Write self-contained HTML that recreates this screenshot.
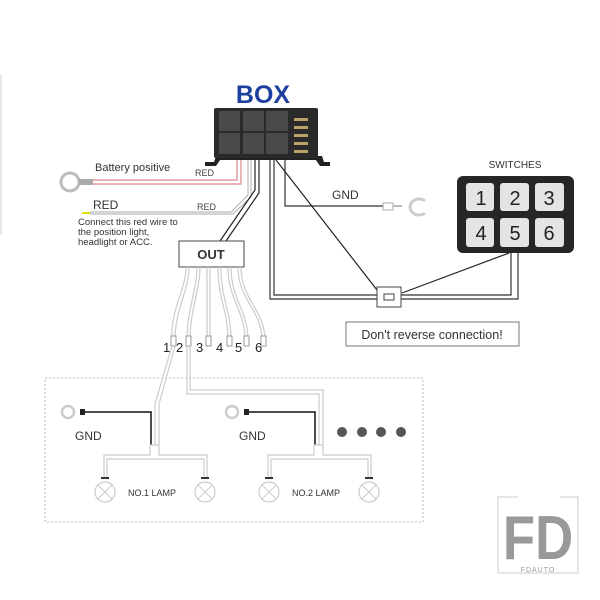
<!DOCTYPE html>
<html><head><style>body{margin:0;background:#fff}svg{display:block}</style></head><body>
<svg width="600" height="600" viewBox="0 0 600 600" font-family="Liberation Sans, sans-serif">
<rect width="600" height="600" fill="#fff"/>
<line x1="1" y1="75" x2="1" y2="235" stroke="#ddd" stroke-width="1.5"/>
<text x="263" y="103" font-size="25" font-weight="bold" fill="#1d3f9e" text-anchor="middle">BOX</text>
<path d="M205 162 L214 162 L216 156 L322 156 L324 162 L330 162 L330 166 L320 166 L316 160 L220 160 L216 166 L205 166Z" fill="#222"/>
<rect x="214" y="108" width="104" height="50" rx="2" fill="#2a2a2a"/>
<g fill="#4a4a4a">
<rect x="219" y="111" width="21" height="20"/><rect x="243" y="111" width="21" height="20"/><rect x="266" y="111" width="22" height="20"/>
<rect x="219" y="133" width="21" height="21"/><rect x="243" y="133" width="21" height="21"/><rect x="266" y="133" width="22" height="21"/>
</g>
<g fill="#b9a26a"><rect x="294" y="118" width="14" height="3"/><rect x="294" y="126" width="14" height="3"/><rect x="294" y="134" width="14" height="3"/><rect x="294" y="142" width="14" height="3"/><rect x="294" y="150" width="14" height="3"/></g>
<circle cx="70" cy="182" r="9" fill="none" stroke="#bbb" stroke-width="3"/>
<rect x="79" y="179" width="14" height="6" fill="#aaa"/>
<path d="M93 180 H237 V160" fill="none" stroke="#d88" stroke-width="1.2"/>
<path d="M93 184 H241 V160" fill="none" stroke="#d88" stroke-width="1.2"/>
<text x="95" y="171" font-size="11" fill="#333">Battery positive</text>
<text x="195" y="176" font-size="9" fill="#444">RED</text>
<rect x="82" y="212" width="8" height="2" fill="#dd0"/>
<path d="M90 212 H231 L248 195 V160" fill="none" stroke="#bbb" stroke-width="1.2"/>
<path d="M90 214 H233 L251 197 V160" fill="none" stroke="#bbb" stroke-width="1.2"/>
<text x="93" y="209" font-size="12" fill="#333">RED</text>
<text x="197" y="210" font-size="9" fill="#444">RED</text>
<text x="78" y="225" font-size="9.5" fill="#333">Connect this red wire to</text>
<text x="78" y="235" font-size="9.5" fill="#333">the position light,</text>
<text x="78" y="245" font-size="9.5" fill="#333">headlight or ACC.</text>
<path d="M220 241 L255 190 V160 M226 241 L259 193 V160" fill="none" stroke="#222" stroke-width="1.2"/>
<rect x="179" y="241" width="65" height="26" fill="#fff" stroke="#444"/>
<text x="211" y="259" font-size="13" font-weight="bold" fill="#333" text-anchor="middle">OUT</text>
<g fill="none" stroke="#ccc" stroke-width="1.2">
<path d="M186 267 C186 290 170 310 172 340"/><path d="M189 267 C189 290 175 310 175 340"/>
<path d="M197 267 C197 290 187 310 187 340"/><path d="M200 267 C200 290 190 310 190 340"/>
<path d="M207 267 V340 M210 267 V340"/>
<path d="M218 267 C218 300 228 310 228 340"/><path d="M221 267 C221 300 231 310 231 340"/>
<path d="M228 267 C228 300 245 310 245 340"/><path d="M231 267 C231 300 248 310 248 340"/>
<path d="M238 267 C238 300 262 310 262 340"/><path d="M241 267 C241 300 265 310 265 340"/>
</g>
<g fill="#fff" stroke="#999"><rect x="171" y="336" width="5" height="10"/><rect x="186" y="336" width="5" height="10"/><rect x="206" y="336" width="5" height="10"/><rect x="227" y="336" width="5" height="10"/><rect x="244" y="336" width="5" height="10"/><rect x="261" y="336" width="5" height="10"/></g>
<text x="163" y="352" font-size="13" fill="#222">1</text><text x="176" y="352" font-size="13" fill="#222">2</text><text x="196" y="352" font-size="13" fill="#222">3</text><text x="216" y="352" font-size="13" fill="#222">4</text><text x="235" y="352" font-size="13" fill="#222">5</text><text x="255" y="352" font-size="13" fill="#222">6</text>
<path d="M285 160 V206 H383" fill="none" stroke="#333" stroke-width="1.2"/>
<rect x="383" y="203" width="10" height="7" fill="#fff" stroke="#aaa"/>
<path d="M393 206 H402" stroke="#bbb" stroke-width="2"/>
<path d="M425 201 A9 8 0 1 0 425 213" fill="none" stroke="#ccc" stroke-width="3"/>
<text x="332" y="199" font-size="12" fill="#333">GND</text>
<path d="M270 160 V299 H377 M274 160 V295 H377 M400 295 H511 V253 M400 299 H518 V253" fill="none" stroke="#333" stroke-width="1.2"/>
<path d="M276 160 L377 290 M402 293 L509 253" fill="none" stroke="#222" stroke-width="1.2"/>
<rect x="377" y="287" width="24" height="20" fill="#fff" stroke="#444"/>
<rect x="384" y="294" width="10" height="6" fill="#fff" stroke="#444"/>
<text x="515" y="168" font-size="10" fill="#333" text-anchor="middle">SWITCHES</text>
<rect x="457" y="176" width="117" height="77" rx="6" fill="#262626"/>
<g fill="#e4e4e4"><rect x="466" y="183" width="28" height="28" rx="3"/><rect x="500" y="183" width="29" height="28" rx="3"/><rect x="535" y="183" width="29" height="28" rx="3"/><rect x="466" y="218" width="28" height="29" rx="3"/><rect x="500" y="218" width="29" height="29" rx="3"/><rect x="535" y="218" width="29" height="29" rx="3"/></g>
<g font-size="20" fill="#222" text-anchor="middle"><text x="481" y="205">1</text><text x="515" y="205">2</text><text x="549" y="205">3</text><text x="481" y="240">4</text><text x="515" y="240">5</text><text x="549" y="240">6</text></g>
<rect x="346" y="322" width="173" height="24" fill="#fff" stroke="#777"/>
<text x="432" y="339" font-size="12.5" fill="#333" text-anchor="middle">Don't reverse connection!</text>
<rect x="45" y="378" width="378" height="144" fill="none" stroke="#bbb" stroke-dasharray="2,2"/>
<path d="M172 346 L155 404 V445 M175 346 L159 404 V445" fill="none" stroke="#ccc" stroke-width="1.2"/>
<path d="M187 346 V394 H319 V445 M190 346 V390 H323 V445" fill="none" stroke="#ccc" stroke-width="1.2"/>
<g id="lg">
<circle cx="68" cy="412" r="6" fill="none" stroke="#ccc" stroke-width="2.5"/>
<rect x="80" y="409" width="5" height="6" fill="#222"/>
<path d="M85 412 H151 V445" fill="none" stroke="#111" stroke-width="1.5"/>
<text x="75" y="440" font-size="12" fill="#333">GND</text>
<path d="M150 445 H159 V455 H207 V478 M150 445 V455 H104 V478 M152 459 H204 V478 M152 459 H107 V478" fill="none" stroke="#ccc" stroke-width="1.2"/>
<circle cx="105" cy="492" r="10" fill="none" stroke="#ccc" stroke-width="1.2"/>
<path d="M98 485 L112 499 M112 485 L98 499" stroke="#ccc"/>
<circle cx="205" cy="492" r="10" fill="none" stroke="#ccc" stroke-width="1.2"/>
<path d="M198 485 L212 499 M212 485 L198 499" stroke="#ccc"/>
<rect x="101" y="477" width="8" height="2" fill="#333"/><rect x="201" y="477" width="8" height="2" fill="#333"/>
</g>
<text x="128" y="496" font-size="9" fill="#333">NO.1  LAMP</text>
<use href="#lg" transform="translate(164,0)"/>
<text x="292" y="496" font-size="9" fill="#333">NO.2  LAMP</text>
<g fill="#555"><circle cx="342" cy="432" r="5"/><circle cx="362" cy="432" r="5"/><circle cx="381" cy="432" r="5"/><circle cx="401" cy="432" r="5"/></g>
<path d="M518 497 H498 V573 H578 V497 H560" fill="none" stroke="#ddd" stroke-width="1.5"/>
<text x="0" y="0" font-size="62" font-weight="bold" fill="#999" text-anchor="middle" transform="translate(538,559) scale(0.85,1)">FD</text>
<rect x="510" y="565" width="56" height="7" fill="#fff"/>
<text x="538" y="572" font-size="7" fill="#999" text-anchor="middle" letter-spacing="1">FDAUTO</text>
</svg>
</body></html>
